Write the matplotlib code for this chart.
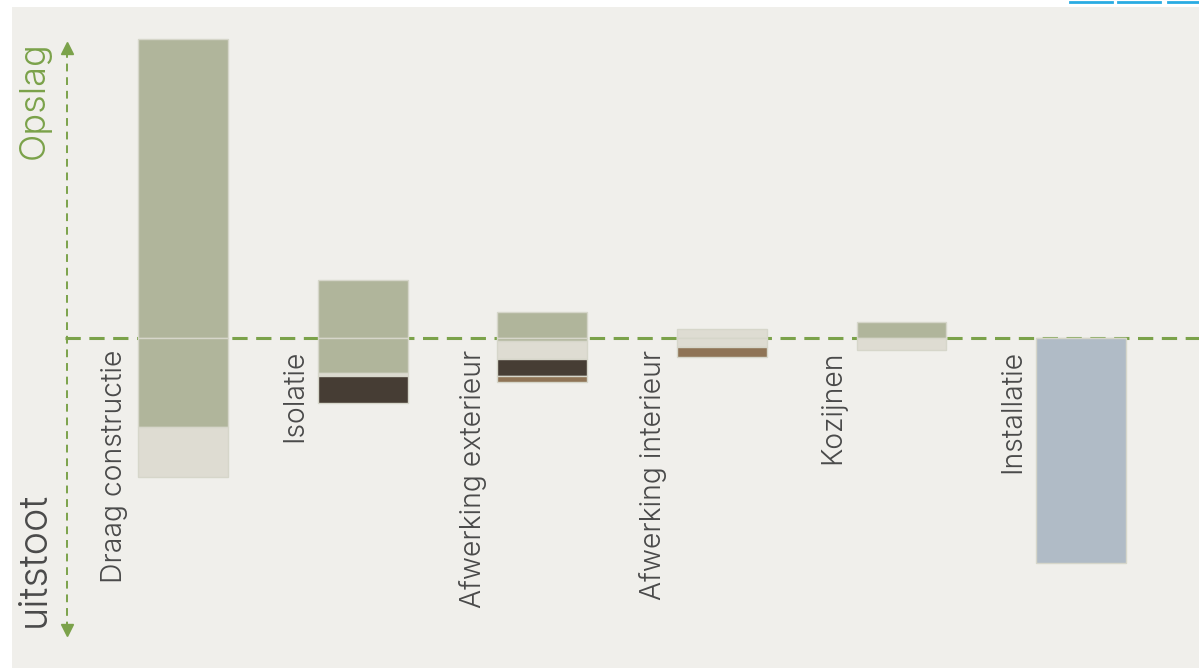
import matplotlib.pyplot as plt
from matplotlib.patches import Rectangle
from matplotlib.lines import Line2D

categories = ["Draag constructie", "Isolatie", "Afwerking exterieur",
              "Afwerking interieur", "Kozijnen", "Installatie"]

# stored carbon above the baseline (Opslag)
above_green = [299, 58, 26, 0, 16, 0]
above_light = [0, 0, 0, 9, 0, 0]

# emissions below the baseline (uitstoot), listed from the baseline down
below_green = [89, 35, 3, 0, 0, 0]
below_light = [50, 3, 18, 9, 12, 0]
below_dark = [0, 27, 17, 0, 0, 0]
below_brown = [0, 0, 6, 10, 0, 0]
below_blue = [0, 0, 0, 0, 0, 225]

GREEN = "#b0b59b"
LIGHT = "#dedcd2"
DARK = "#463d34"
BROWN = "#8f7456"
BLUE = "#b0bbc6"
LINE = "#7ba24a"
BG = "#f0efeb"
TEXT = "#4a4a4a"

W, H = 1199, 668
fig = plt.figure(figsize=(W / 100, H / 100), dpi=100, facecolor="white")
fig.patches.append(Rectangle((12 / W, 0), 1, 1 - 7 / H, transform=fig.transFigure,
                             facecolor=BG, edgecolor="none", zorder=-10))
# clipped widget at the top right
for x0, x1 in [(1070, 1112), (1118, 1160), (1168, 1199)]:
    fig.lines.append(Line2D([x0 / W, x1 / W], [1 - 2 / H, 1 - 2 / H],
                            transform=fig.transFigure, color="#29abe2", lw=2))

ax = fig.add_axes([0, 0, 1, 1])
ax.set_facecolor("none")
step = 179.6
ax.set_xlim(-183 / step, (W - 183) / step)
ax.set_ylim(-(H - 338), 338)
ax.axis("off")

x = list(range(len(categories)))
bw = 0.5
edge = dict(edgecolor="#d6d6ca", linewidth=1, zorder=3)

ax.bar(x, above_green, bw, bottom=0, color=GREEN, **edge)
for xi, v in zip(x, above_light):
    if v:
        ax.bar(xi, v, bw, bottom=0, color=LIGHT, **edge)

bottom = [0] * len(x)
for vals, col in [(below_green, GREEN), (below_light, LIGHT), (below_dark, DARK),
                  (below_brown, BROWN), (below_blue, BLUE)]:
    bottom = [b - v for b, v in zip(bottom, vals)]
    for xi, b, hi in zip(x, bottom, vals):
        if hi:
            ax.bar(xi, hi, bw, bottom=b, color=col, **edge)

# baseline
ax.plot([(65 - 183) / step, (W - 183) / step], [0, 0], color=LINE, lw=2.2,
        dashes=(5, 2.8), zorder=2)

# vertical arrow
xa = (67 - 183) / step
ax.plot([xa, xa], [338 - 50, 338 - 628], color=LINE, lw=1.4, dashes=(4, 3), zorder=2)
ax.plot([xa], [338 - 48], marker="^", color=LINE, markersize=9, zorder=2)
ax.plot([xa], [338 - 630], marker="v", color=LINE, markersize=9, zorder=2)

font = "Inter"
ax.text((34 - 183) / step, 338 - 41, "Opslag", rotation=90, ha="center", va="top",
        color=LINE, fontsize=26, family=font, fontweight=300)
ax.text((34 - 183) / step, 338 - 627, "uitstoot", rotation=90, ha="center", va="bottom",
        color=TEXT, fontsize=28.5, family=font, fontweight=300)

for xi, name in zip(x, categories):
    ax.text(xi - bw / 2 - 0.055, -12, name, rotation=90, ha="right", va="top",
            color=TEXT, fontsize=20.4, family=font, fontweight=300)

fig.savefig("out.png", dpi=100, facecolor="white")
